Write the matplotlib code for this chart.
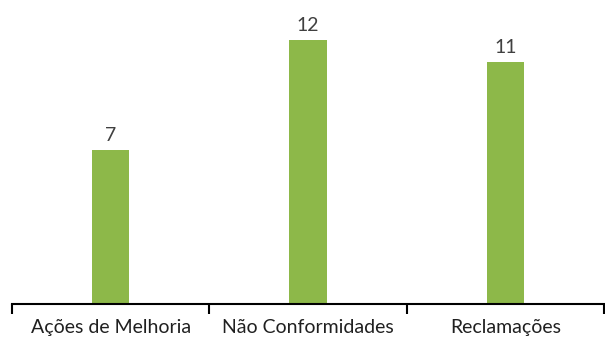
import matplotlib.pyplot as plt

categories = ['Ações de Melhoria', 'Não Conformidades', 'Reclamações']
values = [7, 12, 11]

plt.rcParams['font.family'] = ['Lato', 'DejaVu Sans']

fig = plt.figure(figsize=(6.05, 3.4), dpi=100)
ax = fig.add_axes([12 / 605, 36 / 340, 592 / 605, 304 / 340])

x = range(len(categories))
bars = ax.bar(x, values, width=0.19, color='#8DB849')
for b, v in zip(bars, values):
    ax.annotate(str(v), (b.get_x() + b.get_width() / 2, v), textcoords='offset points',
                xytext=(0, 4), ha='center', va='bottom', fontsize=14, color='#404040')

ax.set_xlim(-0.5, len(categories) - 0.5)
ax.set_ylim(0, 13.8)
ax.set_xticks(x)
ax.set_xticklabels(categories, fontsize=14, color='#202020')
ax.tick_params(axis='x', length=0, pad=11)
ax.set_xticks([i - 0.5 for i in range(len(categories) + 1)], minor=True)
ax.tick_params(axis='x', which='minor', length=7, width=1.5, direction='out', color='black')
ax.set_yticks([])
for s in ['top', 'right', 'left']:
    ax.spines[s].set_visible(False)
ax.spines['bottom'].set_linewidth(1.5)

fig.savefig('out.png', dpi=100)
